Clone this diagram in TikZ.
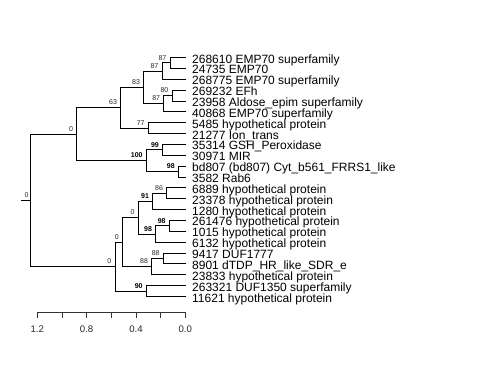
\documentclass[tikz,border=0pt]{standalone}
\usepackage{fontspec}
\setmainfont{Liberation Sans}
\usetikzlibrary{positioning}

\begin{document}
\begin{tikzpicture}[
    x=1pt, y=-1pt,
    branch/.style={draw, line width=0.9pt},
    leaf/.style={
        anchor=west,
        inner xsep=6pt,
        inner ysep=0pt,
        text height=11pt,
        text depth=0pt,
        font=\fontsize{12}{12}\selectfont
    },
    boot/.style={
        anchor=south east,
        inner sep=0pt,
        xshift=-3.5pt,
        yshift=2.5pt,
        text=black!85,
        font=\fontsize{7}{7}\selectfont
    },
    bootbold/.style={boot, text=black, font=\fontsize{7}{7}\selectfont\bfseries},
    scalebar/.style={draw, black!80, line width=0.8pt},
    scalelabel/.style={inner sep=0pt, text=black!85, font=\fontsize{9.6}{10}\selectfont}
]
\useasboundingbox (0,0) rectangle (480,384);

% tips
\foreach \txt [count=\i] in {
    268610 EMP70 superfamily,
    24735 EMP70,
    268775 EMP70 superfamily,
    269232 EFh,
    23958 Aldose\_epim superfamily,
    40868 EMP70 superfamily,
    5485 hypothetical protein,
    21277 Ion\_trans,
    35314 GSH\_Peroxidase,
    30971 MIR,
    {bd807 (bd807) Cyt\_b561\_FRRS1\_like},
    3582 Rab6,
    6889 hypothetical protein,
    23378 hypothetical protein,
    1280 hypothetical protein,
    261476 hypothetical protein,
    1015 hypothetical protein,
    6132 hypothetical protein,
    9417 DUF1777,
    8901 dTDP\_HR\_like\_SDR\_e,
    23833 hypothetical protein,
    263321 DUF1350 superfamily,
    11621 hypothetical protein}
    \node[leaf] (l\i) at (186, {57.5+(\i-1)*10.864}) {\txt};

% inner nodes
\coordinate (stub) at (20.7, 200.43);
\coordinate (root) at (30.7, 200.43);
\coordinate (a) at (76.7, 134.23);
\coordinate (b) at (120.7, 107.75);
\coordinate (c) at (143.7, 87.38);
\coordinate (d) at (162, 71.08);
\coordinate (e) at (170, 62.93);
\coordinate (f) at (163.8, 103.67);
\coordinate (g) at (172, 95.53);
\coordinate (h) at (148.3, 128.12);
\coordinate (i) at (146.3, 160.71);
\coordinate (j) at (162.5, 149.85);
\coordinate (k) at (178.4, 171.57);
\coordinate (m) at (115, 266.63);
\coordinate (n) at (122.5, 242.19);
\coordinate (o) at (138.3, 217.75);
\coordinate (p) at (152.7, 201.45);
\coordinate (q) at (166.7, 193.3);
\coordinate (r) at (155.7, 234.04);
\coordinate (s) at (169.3, 225.89);
\coordinate (t) at (151.7, 266.63);
\coordinate (u) at (163.3, 258.49);
\coordinate (v) at (146.3, 291.08);

% branches
\draw[branch] (stub) -- (root);
\draw[branch] (root) |- (a);
\draw[branch] (root) |- (m);
\draw[branch] (a) |- (b);
\draw[branch] (a) |- (i);
\draw[branch] (b) |- (c);
\draw[branch] (b) |- (h);
\draw[branch] (c) |- (d);
\draw[branch] (c) |- (f);
\draw[branch] (d) |- (e);
\draw[branch] (d) |- (l3.west);
\draw[branch] (e) |- (l1.west);
\draw[branch] (e) |- (l2.west);
\draw[branch] (f) |- (g);
\draw[branch] (f) |- (l6.west);
\draw[branch] (g) |- (l4.west);
\draw[branch] (g) |- (l5.west);
\draw[branch] (h) |- (l7.west);
\draw[branch] (h) |- (l8.west);
\draw[branch] (i) |- (j);
\draw[branch] (i) |- (k);
\draw[branch] (j) |- (l9.west);
\draw[branch] (j) |- (l10.west);
\draw[branch] (k) |- (l11.west);
\draw[branch] (k) |- (l12.west);
\draw[branch] (m) |- (n);
\draw[branch] (m) |- (v);
\draw[branch] (n) |- (o);
\draw[branch] (n) |- (t);
\draw[branch] (o) |- (p);
\draw[branch] (o) |- (r);
\draw[branch] (p) |- (q);
\draw[branch] (p) |- (l15.west);
\draw[branch] (q) |- (l13.west);
\draw[branch] (q) |- (l14.west);
\draw[branch] (r) |- (s);
\draw[branch] (r) |- (l18.west);
\draw[branch] (s) |- (l16.west);
\draw[branch] (s) |- (l17.west);
\draw[branch] (t) |- (u);
\draw[branch] (t) |- (l21.west);
\draw[branch] (u) |- (l19.west);
\draw[branch] (u) |- (l20.west);
\draw[branch] (v) |- (l22.west);
\draw[branch] (v) |- (l23.west);

% support values
\node[boot, xshift=1.5pt] (bs-root) at (root) {0};
\node[boot] (bs-a) at (a) {0};
\node[boot] (bs-b) at (b) {63};
\node[boot] (bs-c) at (c) {83};
\node[boot] (bs-d) at (d) {87};
\node[boot] (bs-e) at (e) {87};
\node[boot] (bs-f) at (f) {87};
\node[boot] (bs-g) at (g) {80};
\node[boot] (bs-h) at (h) {77};
\node[bootbold] (bs-i) at (i) {100};
\node[bootbold] (bs-j) at (j) {99};
\node[bootbold] (bs-k) at (k) {98};
\node[boot] (bs-m) at (m) {0};
\node[boot] (bs-n) at (n) {0};
\node[boot] (bs-o) at (o) {0};
\node[bootbold] (bs-p) at (p) {91};
\node[boot] (bs-q) at (q) {86};
\node[bootbold] (bs-r) at (r) {98};
\node[bootbold] (bs-s) at (s) {98};
\node[boot] (bs-t) at (t) {88};
\node[boot] (bs-u) at (u) {88};
\node[bootbold] (bs-v) at (v) {90};

% scale axis
\coordinate (ax0) at (37.3, 312.3);
\coordinate (ax1) at (185.3, 312.3);
\draw[scalebar] (ax0) -- (ax1);
\foreach \k in {0,...,6}
    \draw[scalebar] ({37.3+\k*24.667}, 312.3) -- ++(0, 6);
\foreach \v [count=\k from 0] in {1.2, 0.8, 0.4, 0.0}
    \node[scalelabel] (tick\k) at ({37.3+\k*49.333}, 329) {\v};

\end{tikzpicture}
\end{document}
